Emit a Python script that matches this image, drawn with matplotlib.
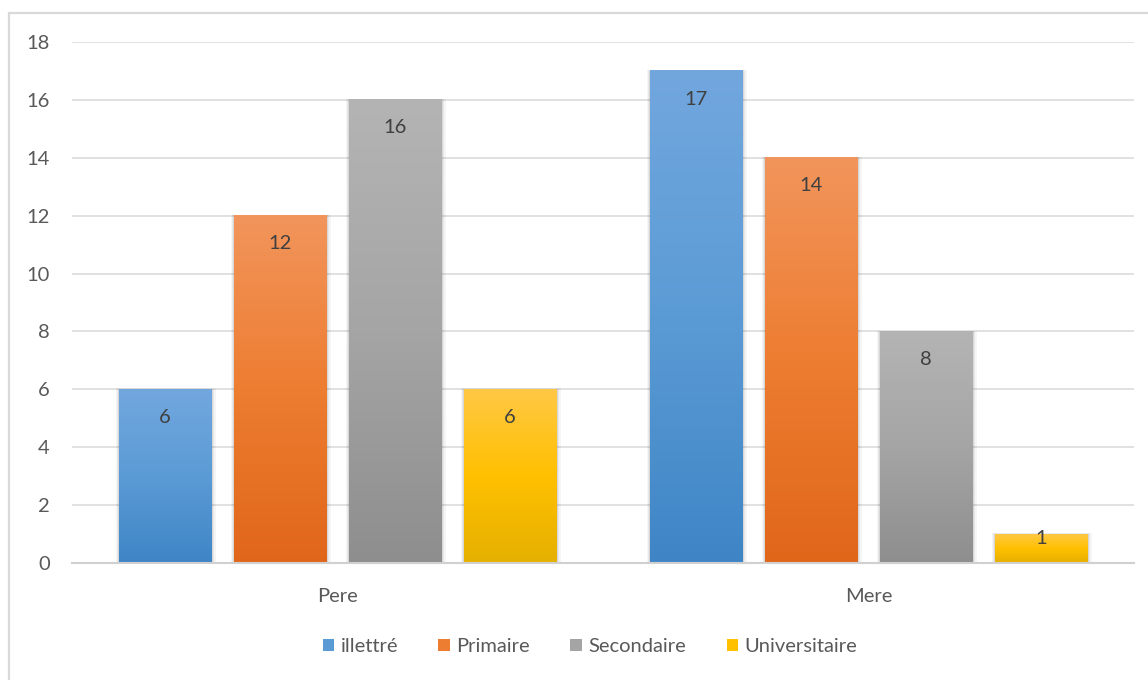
import numpy as np
import matplotlib.pyplot as plt
from matplotlib.colors import LinearSegmentedColormap
from matplotlib.patches import Rectangle

plt.rcParams['font.family'] = ['Lato', 'DejaVu Sans']

parents = ["Pere", "Mere"]
levels = ["illettré", "Primaire", "Secondaire", "Universitaire"]
counts = {
    "illettré": [6, 17],
    "Primaire": [12, 14],
    "Secondaire": [16, 8],
    "Universitaire": [6, 1],
}

# flat colour, gradient top, gradient bottom
palette = {
    "illettré": ("#5B9BD5", "#72A7DE", "#3F85C6"),
    "Primaire": ("#ED7D31", "#F2955C", "#E0661A"),
    "Secondaire": ("#A5A5A5", "#B4B4B4", "#8E8E8E"),
    "Universitaire": ("#FFC000", "#FFC845", "#E5B000"),
}

fig = plt.figure(figsize=(11.48, 6.8), dpi=100)
ax = fig.add_axes([72 / 1148, 1 - 563 / 680, (1134 - 72) / 1148, (563 - 42) / 680])

# chart-area frame
fig.patches.append(Rectangle((9 / 1148, -0.05), 1.1, 1.05 - 13 / 680,
                             transform=fig.transFigure, fill=False,
                             edgecolor="#D9D9D9", lw=1.6, zorder=0))

x = np.arange(len(parents))
step = 0.2166
width = 0.175
handles = []

for i, lvl in enumerate(levels):
    flat, top, bot = palette[lvl]
    cmap = LinearSegmentedColormap.from_list(lvl, [bot, flat, top])
    offs = (i - 1.5) * step
    for xc, v in zip(x + offs, counts[lvl]):
        x0, x1 = xc - width / 2, xc + width / 2
        # soft shadow on the sides of the bar
        for k, a in [(0.008, 0.04), (0.005, 0.05), (0.0025, 0.07)]:
            ax.add_patch(Rectangle((x0 - k * 0.5, 0), width + k * 1.5, v + k * 4,
                                   facecolor="black", alpha=a, lw=0, zorder=2))
        grad = np.linspace(1, 0, 256).reshape(-1, 1)
        ax.imshow(grad, cmap=cmap, extent=(x0, x1, 0, v), aspect="auto",
                  origin="upper", zorder=3, interpolation="bilinear")
        ly = max(v - 0.97, 0.85)
        ax.text(xc, ly, str(v), ha="center", va="center", fontsize=14.5,
                color="#404040", zorder=5)
    handles.append(Rectangle((0, 0), 1, 1, facecolor=flat, lw=0))

ax.set_xlim(-0.5, 1.5)
ax.set_ylim(0, 18)
ax.set_yticks(range(0, 19, 2))
ax.set_xticks(x)
ax.set_xticklabels(parents)
ax.yaxis.grid(True, color="#DCDCDC", lw=1.2, zorder=0)
ax.set_axisbelow(True)
for s in ["top", "right", "left"]:
    ax.spines[s].set_visible(False)
ax.spines["bottom"].set_color("#D0D0D0")
ax.spines["bottom"].set_linewidth(1.5)
ax.spines["bottom"].set_zorder(4)
ax.tick_params(axis="both", length=0, labelsize=14.5, labelcolor="#595959")
ax.tick_params(axis="y", pad=16)
ax.tick_params(axis="x", pad=18)

fig.legend(handles, levels, loc="center",
           bbox_to_anchor=(590 / 1148, 1 - 647 / 680), ncol=4,
           frameon=False, fontsize=14.5, handlelength=0.55, handleheight=0.55,
           handletextpad=0.35, columnspacing=2.0, labelcolor="#595959")

fig.savefig("out.png", dpi=100)
